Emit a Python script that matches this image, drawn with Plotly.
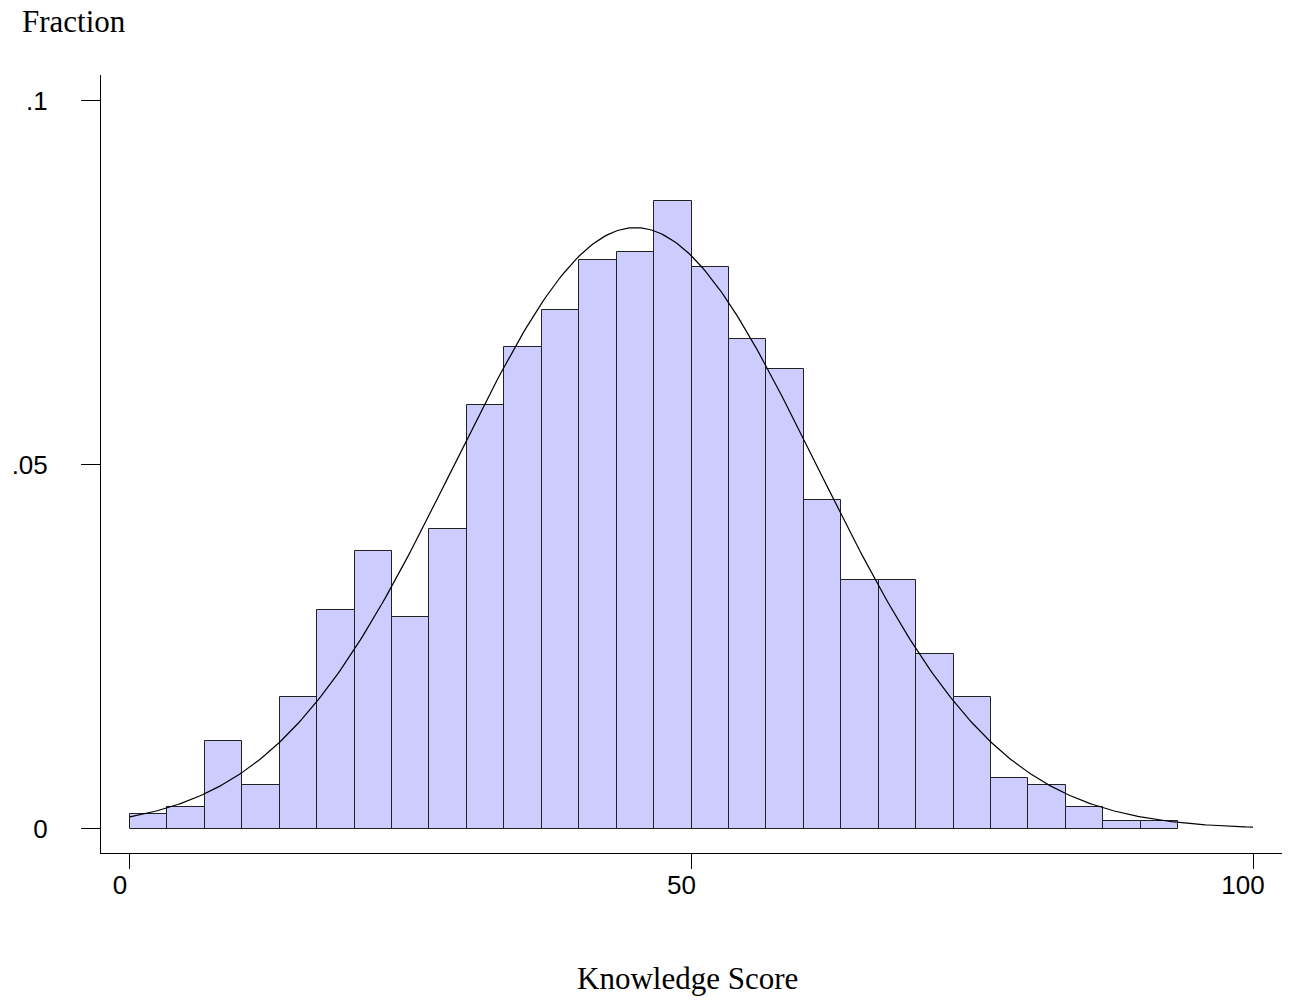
import numpy as np
import plotly.graph_objects as go

# ---- data ----
n_bins = 28
bin_width = 100 / 30
bin_left = [i * bin_width for i in range(n_bins)]
fractions = [0.0021, 0.0030, 0.0121, 0.0060, 0.0181, 0.0301, 0.0382, 0.0291,
             0.0412, 0.0582, 0.0662, 0.0713, 0.0782, 0.0793, 0.0863, 0.0772,
             0.0673, 0.0632, 0.0452, 0.0342, 0.0342, 0.0240, 0.0181, 0.0070,
             0.0060, 0.0030, 0.0011, 0.0011]
fit_mean = 45.0
fit_sd = 16.1
x_tickvals = [0, 50, 100]
x_ticktext = ["0", "50", "100"]
y_tickvals = [0, 0.05, 0.1]
y_ticktext = ["0", ".05", ".1"]

# normal density fitted to the scores, scaled to bin fraction
xs = np.linspace(0, 100, 401)
curve = bin_width / (fit_sd * np.sqrt(2 * np.pi)) * np.exp(-0.5 * ((xs - fit_mean) / fit_sd) ** 2)

fig = go.Figure()
fig.add_trace(go.Bar(
    x=bin_left, y=fractions, width=bin_width, offset=0,
    marker=dict(color="#CCCCFF", line=dict(color="#222222", width=1)),
    hoverinfo="x+y",
))
fig.add_trace(go.Scatter(
    x=xs, y=curve, mode="lines", line=dict(color="black", width=1.2),
    hoverinfo="skip",
))

fig.update_layout(
    width=1290, height=1002,
    margin=dict(l=101, r=8, t=75, b=149),
    paper_bgcolor="white", plot_bgcolor="white",
    showlegend=False, bargap=0,
    font=dict(family="Liberation Sans, Arial, sans-serif", size=26, color="black"),
    xaxis=dict(
        range=[-2.58, 102.58], tickvals=x_tickvals, ticktext=x_ticktext,
        showline=True, linecolor="black", linewidth=1, automargin=False,
        ticks="outside", ticklen=15, tickcolor="black", tickwidth=1,
        showgrid=False, zeroline=False, ticklabelshift=-10, ticklabelstandoff=-6,
    ),
    yaxis=dict(
        range=[-0.0033, 0.10357], tickvals=y_tickvals, ticktext=y_ticktext,
        showline=True, linecolor="black", linewidth=1, automargin=False,
        ticks="outside", ticklen=19, tickcolor="black", tickwidth=1,
        showgrid=False, zeroline=False, ticklabelstandoff=28,
    ),
    annotations=[
        dict(text="Fraction", xref="paper", yref="paper", x=-0.0686, y=1.0694,
             xanchor="left", yanchor="middle", showarrow=False,
             font=dict(family="Liberation Serif, Times New Roman, serif", size=31, color="black")),
        dict(text="Knowledge Score", xref="paper", yref="paper", x=0.497, y=-0.1607,
             xanchor="center", yanchor="middle", showarrow=False,
             font=dict(family="Liberation Serif, Times New Roman, serif", size=31, color="black")),
    ],
)

fig.write_html(
    "out.html",
    config={"displayModeBar": False},
    post_script="document.body.style.margin='0';document.body.style.overflow='hidden';",
)
